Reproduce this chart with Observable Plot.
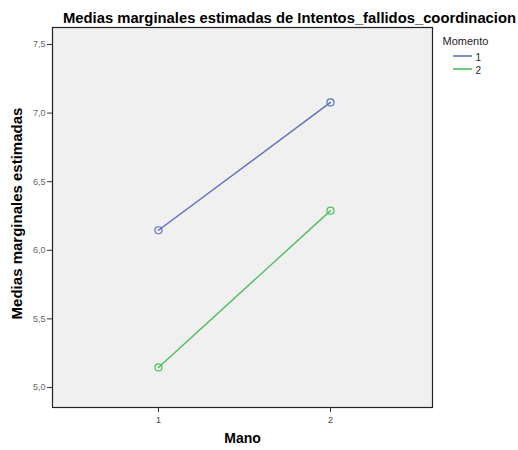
<!DOCTYPE html>
<html>
<head>
<meta charset="utf-8">
<script src="https://cdn.jsdelivr.net/npm/d3@7"></script>
<script src="https://cdn.jsdelivr.net/npm/@observablehq/plot@0.6"></script>
<style>
  html, body { margin: 0; padding: 0; background: #fff; }
  #chart { width: 518px; height: 450px; }
</style>
</head>
<body>
<div id="chart"></div>
<script>
const titleText = "Medias marginales estimadas de Intentos_fallidos_coordinacion";
const xLabel = "Mano";
const yLabel = "Medias marginales estimadas";
const legendTitle = "Momento";
const manoLevels = [1, 2];
const momentoLevels = ["1", "2"];
const momento1 = [6.146, 7.078];
const momento2 = [5.146, 6.289];
const yTicks = [5.0, 5.5, 6.0, 6.5, 7.0, 7.5];
const colors = ["#5b70bf", "#4cc05a"];

const rows = [];
manoLevels.forEach((m, i) => {
  rows.push({mano: m, momento: "1", value: momento1[i]});
  rows.push({mano: m, momento: "2", value: momento2[i]});
});

const fmt = d => d.toFixed(1).replace(".", ",");
const font = "Liberation Sans, Arial, sans-serif";

const legendLabelMarks = momentoLevels.map((k, i) =>
  Plot.text([k], {frameAnchor: "top-right", dx: 43, dy: 26 + i * 13, textAnchor: "start", fontSize: 10, fill: "#222", text: d => d})
);

const chart = Plot.plot({
  width: 518,
  height: 450,
  marginLeft: 52,
  marginRight: 86,
  marginTop: 27,
  marginBottom: 43,
  style: {background: "#fff", fontFamily: font, overflow: "visible"},
  x: {type: "linear", domain: [0.384, 2.593], axis: null},
  y: {domain: [4.854, 7.624], axis: null},
  color: {domain: momentoLevels, range: colors},
  marks: [
    Plot.frame({fill: "#f0f0f0", stroke: null}),
    Plot.line(rows, {x: "mano", y: "value", z: "momento", stroke: "momento", strokeWidth: 1.4}),
    Plot.dot(rows, {x: "mano", y: "value", stroke: "momento", r: 3.5, strokeWidth: 1.2, fill: "none"}),
    Plot.frame({stroke: "#222", strokeWidth: 1.2}),
    Plot.axisY(yTicks, {tickFormat: fmt, tickSize: 5, tickPadding: 2, fontSize: 9, color: "#666", stroke: "#333", label: null}),
    Plot.axisX(manoLevels, {tickFormat: d => String(d), tickSize: 5, tickPadding: 4, fontSize: 9, color: "#444", stroke: "#333", label: null}),
    Plot.text([titleText], {frameAnchor: "top", dx: 47, dy: -15, fontSize: 14.8, fontWeight: "bold", fill: "#000", text: d => d}),
    Plot.text([yLabel], {frameAnchor: "left", dx: -35, dy: -4, rotate: -90, textAnchor: "middle", fontSize: 15, fontWeight: "bold", fill: "#000", text: d => d}),
    Plot.text([xLabel], {frameAnchor: "bottom", dy: 35, fontSize: 14, fontWeight: "bold", fill: "#000", text: d => d}),
    Plot.text([legendTitle], {frameAnchor: "top-right", dx: 10, dy: 10, textAnchor: "start", fontSize: 11, fill: "#222", text: d => d, letterSpacing: "1.5px"}),
    ...legendLabelMarks
  ]
});

// legend line swatches, colours from the colour scale
const svg = d3.select(chart);
const cscale = chart.scale("color");
momentoLevels.forEach((k, i) => {
  svg.append("line")
    .attr("x1", 453).attr("x2", 472)
    .attr("y1", 56 + i * 13).attr("y2", 56 + i * 13)
    .attr("stroke", cscale.apply(k))
    .attr("stroke-width", 1.6);
});

document.getElementById("chart").appendChild(chart);
</script>
</body>
</html>
